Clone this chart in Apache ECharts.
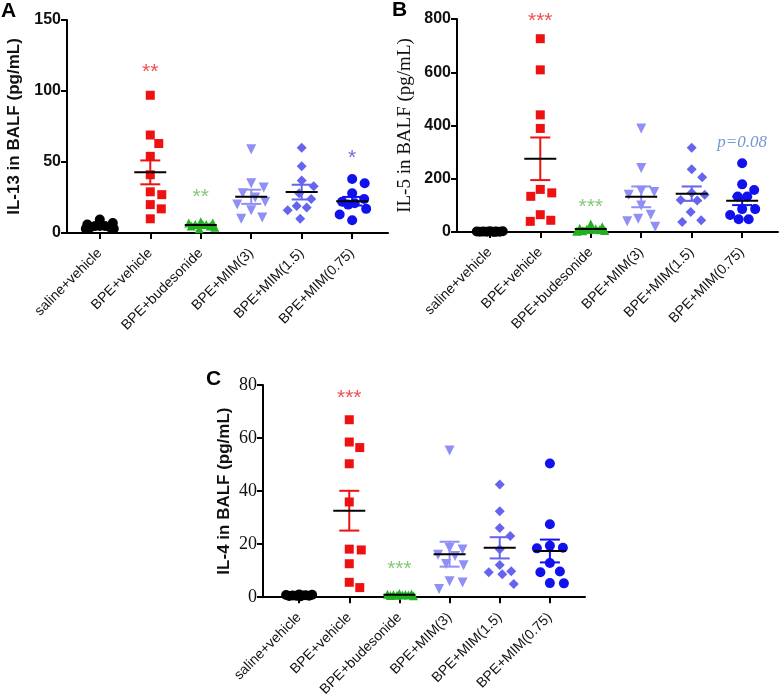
<!DOCTYPE html>
<html><head><meta charset="utf-8">
<script src="https://cdn.jsdelivr.net/npm/echarts@6/dist/echarts.min.js"></script>
<style>html,body{margin:0;padding:0;background:#fff}#c{width:780px;height:699px}</style>
</head><body><div id="c"></div>
<script>
// ---------- data ----------
const categories = ['saline+vehicle','BPE+vehicle','BPE+budesonide','BPE+MIM(3)','BPE+MIM(1.5)','BPE+MIM(0.75)'];

const il13Values = [
  [3,3,4,4,5,5,5,6,7,9.5],
  [97,69,63,54,41,29,27,20,17,10],
  [3,4,5,5,6,6,6,7,7,8],
  [59,35,32,28,25,22,20,16,11,10],
  [60,47,37,33,28,24,19,18,16,10],
  [38,35,28,24,22,21,20,17,13,9]
];
const il13Mean = [5.1, 42.7, 5.7, 25.5, 28.8, 22.4];
const il13Sem  = [0.6, 8.4, 0.5, 5.0, 5.2, 3.0];
const il13Ticks = [0,50,100,150];
const il13Marks = ['', '**', '**', '', '', '*'];
const il13MarkY = [null, 113, 25, null, null, 53];

const il5Values = [
  [0.5,0.8,1,1,1.2,1.5,1.5,2,2.5,3],
  [726,609,440,389,160,147,134,65,44,40],
  [3,5,6,8,9,10,12,14,20,30],
  [389,240,155,150,140,100,65,50,40,20],
  [316,236,206,147,140,120,118,75,44,38],
  [258,179,158,133,133,86,86,64,48,48]
];
const il5Mean = [1.5, 275, 11.7, 132, 144, 117];
const il5Sem  = [0.3, 80, 2.5, 39, 27, 16];
const il5Ticks = [0,200,400,600,800];
const il5Marks = ['', '***', '***', '', '', 'p=0.08'];
const il5MarkY = [null, 790, 95, null, null, 335];

const il4Values = [
  [0.3,0.4,0.5,0.5,0.6,0.6,0.7,0.8,0.9,1],
  [66.9,58.5,56.4,50.3,35.9,18.1,17.8,12.6,5.6,3.6],
  [0.5,0.6,0.7,0.8,0.8,0.9,1,1.1,1.2,1.4],
  [55.3,18.5,18,16,15.5,12.5,12,6,5.5,3.1],
  [42.5,32.4,26.1,23.1,18.1,12.1,9.8,9.4,8.6,5],
  [50.4,27.5,19.4,18.6,18.4,12.9,9.7,9.4,5.3,5.2]
];
const il4Mean = [0.6, 32.6, 0.9, 16.2, 18.6, 17.4];
const il4Sem  = [0.07, 7.5, 0.1, 4.7, 4.0, 4.3];
const il4Ticks = [0,20,40,60,80];
const il4Marks = ['', '***', '***', '', '', ''];
const il4MarkY = [null, 75, 10.5, null, null, null];

// ---------- styles ----------
const groupColors = ['#000000','#ee1111','#22b022','#8f8ff5','#6464ee','#1111ee'];
const markColors  = ['#000000','#ee2222','#66bb55','#000000','#000000','#6a35d5'];
const symbols = ['circle','rect','triangle','triangle','diamond','circle'];
const symRot  = [0,0,0,180,0,0];
const symSize = [10,9,9,10,10,10];

const panels = [
  {vals: il13Values, mean: il13Mean, sem: il13Sem, ticks: il13Ticks, marks: il13Marks, markY: il13MarkY,
   grid:{left:67, top:20, width:321, height:213}, xmin:-0.65, xmax:5.71,
   title:'IL-13 in BALF (pg/mL)', titleFont:{fontFamily:'Liberation Sans', fontWeight:'bold', fontSize:17}, nameGap:44,
   tickFont:{fontFamily:'Liberation Sans', fontWeight:'bold', fontSize:16}},
  {vals: il5Values, mean: il5Mean, sem: il5Sem, ticks: il5Ticks, marks: il5Marks, markY: il5MarkY,
   grid:{left:457, top:19, width:321, height:213}, xmin:-0.65, xmax:5.71,
   title:'IL-5 in BALF (pg/mL)', titleFont:{fontFamily:'Liberation Serif', fontWeight:'normal', fontSize:19}, nameGap:42,
   tickFont:{fontFamily:'Liberation Sans', fontWeight:'bold', fontSize:16}},
  {vals: il4Values, mean: il4Mean, sem: il4Sem, ticks: il4Ticks, marks: il4Marks, markY: il4MarkY,
   grid:{left:263, top:385, width:322, height:213}, xmin:-0.72, xmax:5.7,
   title:'IL-4 in BALF (pg/mL)', titleFont:{fontFamily:'Liberation Sans', fontWeight:'bold', fontSize:17}, nameGap:30,
   tickFont:{fontFamily:'Liberation Serif', fontWeight:'normal', fontSize:18}}
];

// beeswarm horizontal offsets (px) computed from the values
function swarm(vals, pxY, size, maxW){
  const order = vals.map((v,i)=>i).sort((a,b)=>vals[b]-vals[a]);
  const placed = []; const off = new Array(vals.length).fill(0);
  const cands = []; for(let d=0; d<=maxW; d+=0.5){ cands.push(d); if(d>0) cands.push(-d); }
  const need = size*1.3;
  for(const i of order){
    const y = vals[i]*pxY;
    let chosen = null, fb = 0, fbScore = -1;
    for(const c of cands){
      let minD = Infinity;
      for(const p of placed){ const dd = Math.hypot(c-p.x, y-p.y); if(dd<minD) minD = dd; }
      if(minD >= need){ chosen = c; break; }
      if(minD > fbScore){ fbScore = minD; fb = c; }
    }
    if(chosen === null) chosen = fb;
    off[i] = chosen; placed.push({x:chosen, y:y});
  }
  return off;
}

const grids=[], xAxes=[], yAxes=[], series=[];
panels.forEach((P, g)=>{
  grids.push(P.grid);
  const ymax = P.ticks[P.ticks.length-1];
  const pxY = P.grid.height/ymax;
  const pxX = P.grid.width/(P.xmax-P.xmin);
  xAxes.push({gridIndex:g, type:'value', min:P.xmin, max:P.xmax,
    axisLine:{show:true, onZero:false, lineStyle:{color:'#000', width:2}},
    axisTick:{show:true, customValues:[0,1,2,3,4,5], length:6, lineStyle:{color:'#000', width:2}},
    axisLabel:{customValues:[0,1,2,3,4,5], formatter:v=>categories[Math.round(v)], rotate:45, hideOverlap:false,
      fontFamily:'Liberation Sans', fontSize:14, color:'#111', margin:18},
    splitLine:{show:false}});
  yAxes.push({gridIndex:g, type:'value', min:0, max:ymax, interval:P.ticks[1]-P.ticks[0],
    name:P.title, nameLocation:'middle', nameRotate:90, nameGap:P.nameGap,
    nameTextStyle:Object.assign({color:'#111'}, P.titleFont),
    axisLine:{show:true, onZero:false, lineStyle:{color:'#000', width:2}},
    axisTick:{show:true, length:6, lineStyle:{color:'#000', width:2}},
    axisLabel:Object.assign({color:'#111', margin:6}, P.tickFont),
    splitLine:{show:false}});
  P.vals.forEach((vals, i)=>{
    const off = swarm(vals, pxY, symSize[i], 14);
    series.push({type:'scatter', xAxisIndex:g, yAxisIndex:g, symbol:symbols[i], symbolRotate:symRot[i],
      symbolSize:symSize[i], itemStyle:{color:groupColors[i], opacity:1}, z:2, silent:true,
      data: vals.map((v,k)=>[i + off[k]/pxX, v])});
  });
  series.push({type:'custom', xAxisIndex:g, yAxisIndex:g, z:5, silent:true,
    data: P.mean.map((m,i)=>[i, m, P.sem[i]]),
    renderItem:(params, api)=>{
      const i = api.value(0), m = api.value(1), s = api.value(2);
      const c = api.coord([i,m]), t = api.coord([i,m+s]), b = api.coord([i,Math.max(0,m-s)]);
      const col = groupColors[i];
      return {type:'group', children:[
        {type:'line', shape:{x1:c[0], y1:t[1], x2:c[0], y2:b[1]}, style:{stroke:col, lineWidth:2}},
        {type:'line', shape:{x1:c[0]-10, y1:t[1], x2:c[0]+10, y2:t[1]}, style:{stroke:col, lineWidth:2}},
        {type:'line', shape:{x1:c[0]-10, y1:b[1], x2:c[0]+10, y2:b[1]}, style:{stroke:col, lineWidth:2}},
        {type:'line', shape:{x1:c[0]-16, y1:c[1], x2:c[0]+16, y2:c[1]}, style:{stroke:'#000', lineWidth:2}}
      ]};
    }});
  const md = [];
  P.marks.forEach((t,i)=>{
    if(!t) return;
    const isP = t.indexOf('p=')===0;
    md.push({value:[i, P.markY[i]], label:{show:true, position:'inside', formatter:t,
      color: isP ? '#4f7fc4' : markColors[i],
      fontFamily: isP ? 'Liberation Serif' : 'Liberation Sans',
      fontStyle: isP ? 'italic' : 'normal',
      fontSize: isP ? 17 : 21}});
  });
  series.push({type:'scatter', xAxisIndex:g, yAxisIndex:g, symbolSize:1, itemStyle:{color:'rgba(0,0,0,0)'},
    clip:false, z:6, silent:true, data:md});
});

const chart = echarts.init(document.getElementById('c'), null, {renderer:'canvas'});
chart.setOption({
  animation:false,
  backgroundColor:'#fff',
  grid:grids, xAxis:xAxes, yAxis:yAxes, series:series,
  graphic:[
    {type:'text', left:1, top:1, style:{text:'A', fontFamily:'Liberation Sans', fontWeight:'bold', fontSize:21, fill:'#000'}},
    {type:'text', left:392, top:0, style:{text:'B', fontFamily:'Liberation Sans', fontWeight:'bold', fontSize:21, fill:'#000'}},
    {type:'text', left:206, top:369, style:{text:'C', fontFamily:'Liberation Sans', fontWeight:'bold', fontSize:21, fill:'#000'}}
  ]
});
</script>
</body></html>
